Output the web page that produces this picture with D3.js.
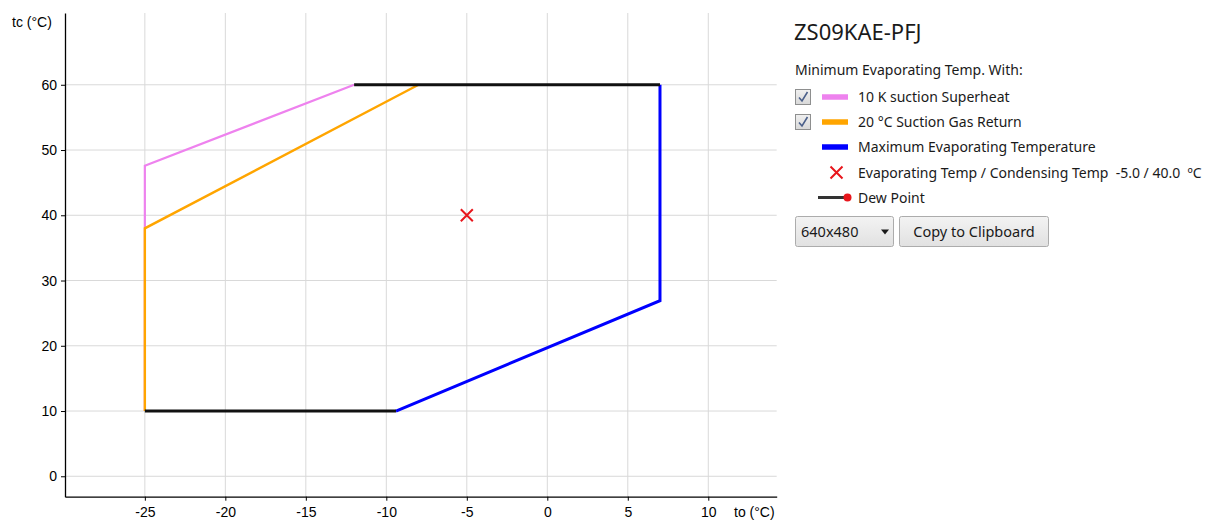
<!DOCTYPE html>
<html><head><meta charset="utf-8">
<script src="https://cdn.jsdelivr.net/npm/d3@7"></script>
<style>
html,body{margin:0;padding:0;background:#fff;}
svg{display:block;}
</style></head>
<body>
<svg id="c" width="1221" height="521"></svg>
<script>
// ---- data ----
const xTicks = [-25, -20, -15, -10, -5, 0, 5, 10];
const yTicks = [0, 10, 20, 30, 40, 50, 60];
const superheatTo = [-25, -25, -12];
const superheatTc = [10, 47.6, 60];
const gasReturnTo = [-25, -25, -8];
const gasReturnTc = [10, 38, 60];
const maxEvapTo = [-9.4, 7, 7];
const maxEvapTc = [10, 26.9, 60];
const dewTopTo = [-12, 7];
const dewTopTc = [60, 60];
const dewBottomTo = [-25, -9.4];
const dewBottomTc = [10, 10];
const opPoint = {to: -5, tc: 40};
const title = "ZS09KAE-PFJ";
const legendHeader = "Minimum Evaporating Temp. With:";
const legendItems = ["10 K suction Superheat", "20 °C Suction Gas Return", "Maximum Evaporating Temperature", "Evaporating Temp / Condensing Temp  -5.0 / 40.0  ºC", "Dew Point"];

const svg = d3.select("#c");
const x = d3.scaleLinear().domain([-29.96, 14.25]).range([65, 776.7]);
const y = d3.scaleLinear().domain([-3.13, 71.0]).range([496.7, 13]);
const chartFont = "'Liberation Sans', Arial, sans-serif";
const uiFont = "'Noto Sans', 'Open Sans', sans-serif";

// grid
const grid = svg.append("g");
grid.selectAll("line.v").data(xTicks).join("line")
  .attr("x1", d => x(d)).attr("x2", d => x(d))
  .attr("y1", y.range()[1]).attr("y2", y.range()[0])
  .attr("stroke", "#d9d9d9").attr("stroke-width", 1);
grid.selectAll("line.h").data(yTicks).join("line")
  .attr("y1", d => y(d)).attr("y2", d => y(d))
  .attr("x1", x.range()[0]).attr("x2", x.range()[1])
  .attr("stroke", "#d9d9d9").attr("stroke-width", 1);

// axes
const fmt = d => String(d);
const xAxis = d3.axisBottom(x).tickValues(xTicks).tickFormat(fmt).tickSize(4).tickPadding(6).tickSizeOuter(0);
const yAxis = d3.axisLeft(y).tickValues(yTicks).tickFormat(fmt).tickSize(4).tickPadding(4).tickSizeOuter(0);
const gx = svg.append("g").attr("transform", `translate(0,${y.range()[0]})`).call(xAxis);
const gy = svg.append("g").attr("transform", `translate(${x.range()[0]},0)`).call(yAxis);
[gx, gy].forEach(g => {
  g.select(".domain").attr("stroke", "#000").attr("stroke-width", 1.3);
  g.selectAll(".tick line").attr("stroke", "#000");
  g.selectAll(".tick text").attr("font-family", chartFont).attr("font-size", 14).attr("fill", "#000");
});
svg.append("text").attr("x", 12).attr("y", 27).text("tc (°C)")
  .attr("font-family", chartFont).attr("font-size", 14).attr("fill", "#000");
svg.append("text").attr("x", 734).attr("y", 517).text("to (°C)")
  .attr("font-family", chartFont).attr("font-size", 14).attr("fill", "#000");

// lines
const line = d3.line().x(d => x(d[0])).y(d => y(d[1]));
const zip = (a, b) => a.map((v, i) => [v, b[i]]);
const plot = svg.append("g").attr("fill", "none").attr("stroke-linejoin", "miter");
plot.append("path").attr("d", line(zip(superheatTo, superheatTc))).attr("stroke", "#ee82ee").attr("stroke-width", 2.2);
plot.append("path").attr("d", line(zip(gasReturnTo, gasReturnTc))).attr("stroke", "#ffa500").attr("stroke-width", 2.4);
plot.append("path").attr("d", line(zip(maxEvapTo, maxEvapTc))).attr("stroke", "#0000ff").attr("stroke-width", 3);
plot.append("path").attr("d", line(zip(dewTopTo, dewTopTc))).attr("stroke", "#111").attr("stroke-width", 3);
plot.append("path").attr("d", line(zip(dewBottomTo, dewBottomTc))).attr("stroke", "#111").attr("stroke-width", 3);

// operating point
function cross(g, cx, cy, s) {
  g.append("path").attr("d", `M${cx - s},${cy - s}L${cx + s},${cy + s}M${cx - s},${cy + s}L${cx + s},${cy - s}`)
    .attr("stroke", "#e8161c").attr("stroke-width", 2).attr("fill", "none");
}
cross(svg, x(opPoint.to), y(opPoint.tc), 6);

// legend
const lg = svg.append("g");
lg.append("text").attr("x", 794).attr("y", 40).text(title)
  .attr("font-family", uiFont).attr("font-size", 22).attr("fill", "#1a1a1a");
lg.append("text").attr("x", 795).attr("y", 75).text(legendHeader)
  .attr("font-family", uiFont).attr("font-size", 14).attr("fill", "#1a1a1a");

const defs = svg.append("defs");
const gr = defs.append("linearGradient").attr("id", "cbg").attr("x1", 0).attr("y1", 0).attr("x2", 0).attr("y2", 1);
gr.append("stop").attr("offset", "0%").attr("stop-color", "#f0f0f0");
gr.append("stop").attr("offset", "100%").attr("stop-color", "#d8d8d8");
const gb = defs.append("linearGradient").attr("id", "btg").attr("x1", 0).attr("y1", 0).attr("x2", 0).attr("y2", 1);
gb.append("stop").attr("offset", "0%").attr("stop-color", "#f3f3f3");
gb.append("stop").attr("offset", "100%").attr("stop-color", "#e1e1e1");

const rowY = [97, 122, 147, 172.5, 197.5];
const swatchColors = ["#ee82ee", "#ffa500", "#0000ff"];
[0, 1].forEach(i => {
  const cy = rowY[i];
  lg.append("rect").attr("x", 795.5).attr("y", cy - 7.5).attr("width", 15).attr("height", 15)
    .attr("fill", "url(#cbg)").attr("stroke", "#8e8f8f");
  lg.append("path").attr("d", `M${799},${cy + 0.5}L${802},${cy + 4}L${807.5},${cy - 5}`)
    .attr("fill", "none").attr("stroke", "#4a5f8a").attr("stroke-width", 1.6);
});
swatchColors.forEach((c, i) => {
  lg.append("line").attr("x1", 822).attr("x2", 848).attr("y1", rowY[i]).attr("y2", rowY[i])
    .attr("stroke", c).attr("stroke-width", 5.5);
});
cross(lg, 836.5, rowY[3], 6);
lg.append("line").attr("x1", 818).attr("x2", 846).attr("y1", rowY[4]).attr("y2", rowY[4])
  .attr("stroke", "#333").attr("stroke-width", 3);
lg.append("circle").attr("cx", 847.5).attr("cy", rowY[4]).attr("r", 4).attr("fill", "#e8161c");
legendItems.forEach((t, i) => {
  lg.append("text").attr("x", 858).attr("y", rowY[i]).attr("dy", "0.36em").text(t.replace(/  /g, " \u00A0"))
    .attr("font-family", uiFont).attr("font-size", 14).attr("fill", "#1a1a1a");
});

// controls
lg.append("rect").attr("x", 795.5).attr("y", 216.5).attr("width", 98).attr("height", 30).attr("rx", 2)
  .attr("fill", "url(#btg)").attr("stroke", "#acacac");
lg.append("text").attr("x", 801).attr("y", 232).attr("dy", "0.36em").text("640x480")
  .attr("font-family", uiFont).attr("font-size", 14.5).attr("fill", "#1a1a1a");
lg.append("path").attr("d", "M881,229.5L889,229.5L885,234.5Z").attr("fill", "#1a1a1a");
lg.append("rect").attr("x", 899.5).attr("y", 216.5).attr("width", 149).attr("height", 30).attr("rx", 2)
  .attr("fill", "url(#btg)").attr("stroke", "#acacac");
lg.append("text").attr("x", 974).attr("y", 232).attr("dy", "0.36em").attr("text-anchor", "middle").text("Copy to Clipboard")
  .attr("font-family", uiFont).attr("font-size", 14.5).attr("fill", "#1a1a1a");
</script>
</body></html>
